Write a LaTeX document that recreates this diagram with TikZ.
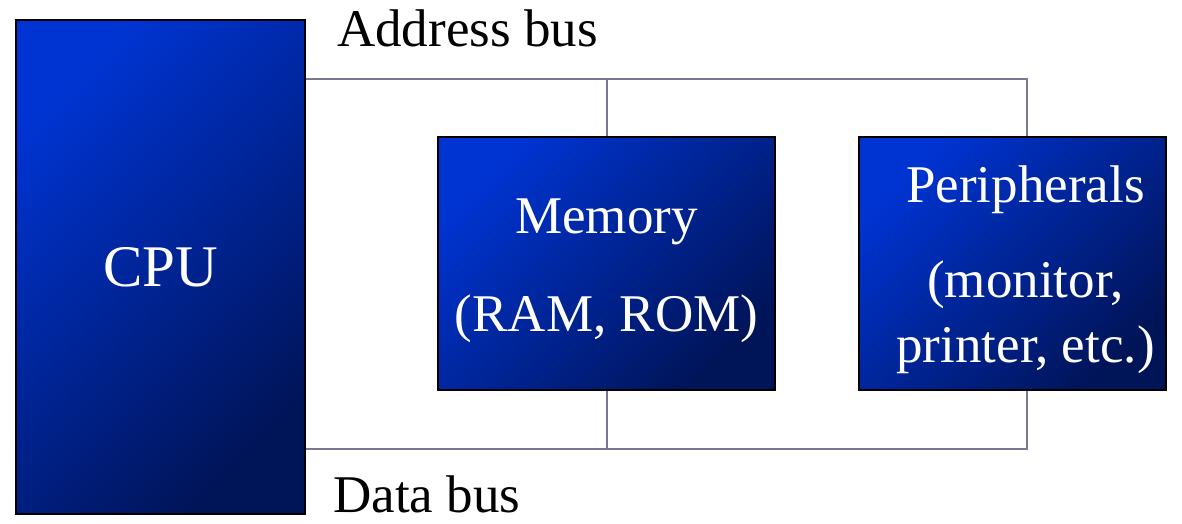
\documentclass[tikz,border=0pt]{standalone}
\usepackage{fontspec}
\setmainfont{Liberation Serif}
\definecolor{boxblue}{RGB}{0,52,210}
\definecolor{boxnavy}{RGB}{0,20,88}
\definecolor{busgray}{RGB}{120,120,148}
\begin{document}
\begin{tikzpicture}[x=1pt,y=-1pt]
        \tikzstyle{unit}=[draw=black,line width=2.5pt,top color=boxblue,bottom color=boxnavy,
          shading angle=45,inner sep=0pt];
        \tikzstyle{unittext}=[text=white,align=center,inner sep=0pt,
          font=\fontsize{53}{65}\selectfont];
        \tikzstyle{bus}=[draw=busgray,line width=2pt];
        \tikzstyle{buslabel}=[anchor=base west,inner sep=0pt,font=\fontsize{53}{65}\selectfont];
        \useasboundingbox (0,0) rectangle (1182,524);

        \node(cpu)[unit,minimum width=289pt,minimum height=494pt] at (160.5,267) {};
        \node(mem)[unit,minimum width=337pt,minimum height=253pt] at (606.5,263.5) {};
        \node(per)[unit,minimum width=307pt,minimum height=253pt] at (1012.5,263.5) {};

        \node(cputext)[unittext,font=\fontsize{59}{70}\selectfont] at (cpu.center) {CPU};
        \node(memtext)[unittext] at ([yshift=-7pt]mem.center) {Memory\\[33pt](RAM, ROM)};
        \node(pertext)[unittext] at ([xshift=13pt,yshift=-6pt]per.center)
          {Peripherals\\[30pt](monitor,\\printer, etc.)};

        \coordinate(abus) at (1027,79);
        \coordinate(dbus) at (1027,449);
        \draw[bus] (cpu.east |- abus) -- (abus) -- (per.north -| abus);
        \draw[bus] (mem.north) -- (mem.north |- abus);
        \draw[bus] (cpu.east |- dbus) -- (dbus) -- (per.south -| abus);
        \draw[bus] (mem.south) -- (mem.south |- dbus);

        \node(alabel)[buslabel] at (337,47) {Address bus};
        \node(dlabel)[buslabel] at (333,512) {Data bus};
      \end{tikzpicture}
\end{document}
